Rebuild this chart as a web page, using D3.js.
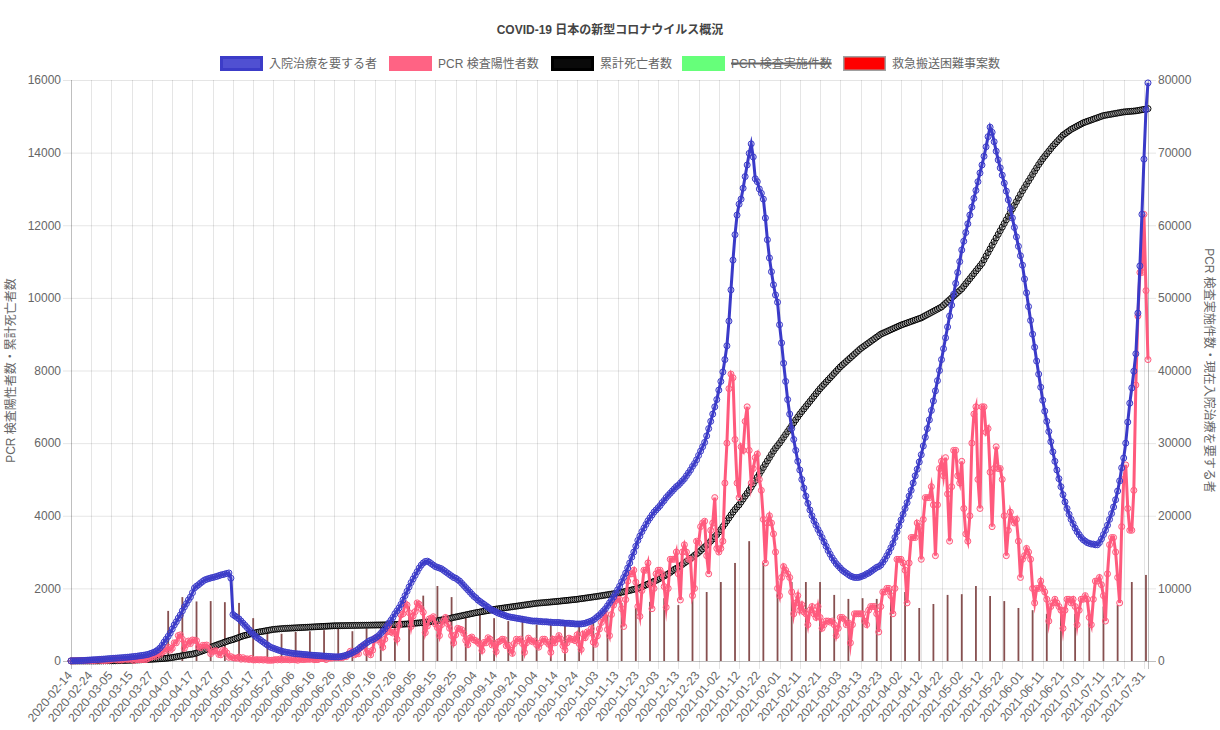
<!DOCTYPE html>
<html><head><meta charset="utf-8">
<script src="https://cdn.jsdelivr.net/npm/d3@7"></script>
<style>
body{margin:0;background:#fff}
text{font-family:"Liberation Sans",Arial,"Noto Sans CJK JP",sans-serif;}
</style></head><body>
<svg id="c" width="1220" height="730"></svg>
<script>
// ---------- DATA ----------
const startDate = "2020-02-14";
const skippedDates = ["2020-03-18","2020-03-22","2020-04-01"];
const categoryCount = 533;

const leftTicks = [0,2000,4000,6000,8000,10000,12000,14000,16000];
const rightTicks = [0,10000,20000,30000,40000,50000,60000,70000,80000];

const seriesNames = ["入院治療を要する者","PCR 検査陽性者数","累計死亡者数","PCR 検査実施件数","救急搬送困難事案数"];
const hiddenSeries = ["PCR 検査実施件数"];

// 入院治療を要する者 (right axis)
const inpatients = [
20,25,30,40,50,60,70,90,110,130,
150,170,180,200,220,240,260,280,300,330,
350,370,390,410,430,450,470,500,520,550,
580,610,640,680,720,760,800,850,900,1000,
1100,1200,1350,1550,1790,2150,2600,3000,3400,3850,
4400,4960,5400,5900,6330,6900,7440,7900,8400,8810,
9400,10050,10300,10500,10740,10950,11150,11250,11350,11430,
11500,11570,11650,11750,11840,11900,11980,12050,12120,11400,
6400,6200,6000,5800,5500,5200,4900,4600,4300,4000,
3700,3450,3200,3000,2800,2600,2400,2200,2000,1850,
1750,1650,1550,1450,1350,1280,1220,1170,1120,1080,
1040,1000,980,960,930,900,880,850,820,800,
780,760,740,720,700,680,660,640,620,600,
580,570,580,600,650,720,800,900,1000,1150,
1300,1450,1650,1900,2100,2300,2500,2700,2850,2950,
3100,3300,3500,3800,4100,4400,4800,5230,5600,6000,
6500,6900,7300,7800,8400,9000,9600,10200,10800,11300,
11800,12300,12800,13200,13500,13700,13750,13600,13400,13200,
13000,12900,12800,12700,12500,12300,12100,11900,11700,11500,
11400,11200,11000,10700,10400,10100,9800,9500,9200,8900,
8700,8400,8200,8000,7800,7600,7400,7200,7000,6900,
6750,6600,6500,6400,6300,6200,6100,6050,6000,5950,
5900,5850,5800,5750,5700,5650,5600,5550,5500,5500,
5500,5450,5450,5400,5400,5400,5350,5350,5300,5300,
5300,5300,5250,5250,5200,5200,5200,5150,5150,5100,
5100,5100,5100,5150,5200,5300,5400,5500,5650,5850,
6100,6300,6600,6900,7200,7600,8000,8400,8800,9300,
9800,10300,10900,11500,12100,12800,13500,14300,15000,15800,
16600,17200,17800,18300,18800,19300,19700,20100,20500,20800,
21100,21400,21800,22100,22500,22800,23100,23400,23700,24000,
24200,24500,24800,25100,25500,25900,26300,26800,27200,27700,
28300,28900,29500,30100,31000,32000,33000,34000,35000,36000,
37300,38500,39800,41500,43400,46800,51100,55200,58700,61400,
62900,63600,65100,66700,68300,69900,71200,69400,66400,66000,
65000,64400,63600,61000,58000,55500,53600,51800,50400,49400,
46300,43800,41000,38500,36000,34000,32000,30500,29000,27500,
26300,25000,23800,22700,21700,20800,20000,19300,18700,18100,
17600,17000,16400,15800,15200,14700,14200,13800,13400,13100,
12800,12500,12300,12100,11900,11700,11600,11500,11500,11500,
11600,11700,11800,12000,12100,12300,12500,12700,12900,13000,
13200,13600,14000,14500,15000,15600,16200,17000,17800,18600,
19400,20200,21000,21800,22700,23500,24500,25500,26400,27400,
28400,29600,30800,32000,33200,34500,35800,37200,38600,40000,
41500,43000,44500,46000,47500,49000,50500,52000,53500,55000,
56600,57800,59000,60200,61400,62500,63700,64800,66000,67200,
68300,69500,70800,72200,73500,72800,71500,70200,69000,67900,
66900,65800,64700,63500,62300,61000,59700,58400,57100,55800,
54500,52600,50700,48800,46900,45000,43200,41300,39500,37700,
35900,34400,33000,31600,30200,28800,27500,26300,25100,24000,
22900,21900,21000,20200,19500,18900,18300,17800,17400,17000,
16700,16500,16300,16200,16100,16100,16000,16000,16300,16800,
17400,18000,18700,19500,20300,21200,22200,23400,24800,26600,
27950,30000,32900,35500,37600,39900,42300,47900,54400,61500,
69100,75900,79600
];

// PCR 検査陽性者数 (left axis)
const positives = [
1,1,5,7,7,12,6,10,14,14,
12,8,16,22,24,14,7,13,18,22,
33,59,47,26,33,26,52,54,41,62,
40,15,44,39,35,43,41,40,69,96,
112,200,130,200,180,240,270,340,380,300,
350,500,500,700,720,600,350,450,550,480,
580,570,560,390,370,430,430,440,350,200,
260,280,280,180,170,290,280,220,100,120,
90,80,80,110,50,90,50,60,40,70,
30,30,40,30,40,25,40,20,20,20,
25,40,30,50,30,40,40,40,30,40,
40,35,20,50,40,40,45,50,45,70,
35,40,40,70,70,70,40,80,80,80,
100,90,110,90,90,120,120,190,270,250,
170,200,200,360,400,430,230,260,170,300,
620,580,660,510,380,600,800,980,800,770,
810,600,980,1270,1300,1580,1540,1330,950,1240,
1360,1600,1560,1440,1340,780,960,1160,1180,1220,
1020,920,700,1000,1100,1200,1030,900,700,500,
720,900,880,860,760,570,450,630,660,580,
560,510,460,290,510,500,640,600,440,480,
260,520,550,600,590,420,440,300,210,480,
600,560,600,480,240,500,630,570,530,550,
450,380,500,600,600,520,460,240,600,500,
600,700,600,420,300,500,630,600,590,560,
720,480,320,740,640,800,770,890,520,460,
690,880,1060,1180,1300,870,700,1280,1540,1660,
1700,1700,1440,950,1690,2200,2400,2400,2500,2170,
1500,1230,1940,2500,2500,2700,2100,1440,2000,2400,
2500,2500,2400,2050,1480,2000,2800,2800,2800,3000,
2400,1680,3000,3200,3000,2800,2800,1800,2000,3300,
3250,3700,3800,3850,2900,2400,3600,3800,4500,3100,
3000,3100,3300,4900,6000,7500,7900,7800,6100,4900,
4500,5900,5800,6600,7000,5800,4900,5300,5600,5700,
5000,4700,3900,2700,3800,4000,3800,3500,3000,2000,
1800,2300,2600,2500,2400,2300,1900,1300,1600,1800,
1400,1550,1350,1300,1000,1400,1500,1300,1200,1500,
1200,900,1000,1100,1100,1070,1100,1000,700,900,
1200,1200,1150,1000,1050,500,1000,1300,1300,1300,
1300,1300,1100,1000,1400,1500,1500,1500,1300,800,
1500,1900,1900,2000,2000,1800,1300,2000,2800,2800,
2800,2700,2500,1600,2700,3400,3400,3400,3800,3700,
2800,3900,4500,4500,4500,4800,4300,2900,4300,5300,
5500,5100,5600,4600,3300,4800,5800,5800,5100,4900,
5500,4200,3500,3300,4000,6000,6800,7000,5000,4200,
7000,7000,6300,6400,5200,3700,5300,5900,5300,5300,
5000,4000,2900,3600,4100,3900,3800,3900,3300,2300,
2800,2900,3100,3000,2800,2000,1600,2000,2000,2200,
2000,1900,1700,1100,1500,1600,1700,1600,1500,1400,
900,1400,1700,1700,1600,1700,1500,1000,1400,1700,
1700,1800,1700,1200,1000,1700,2200,2200,2300,2100,
1800,1100,2400,3200,3400,3400,3000,2300,1600,3700,
5000,5400,4200,3600,3600,4700,7600,9500,10700,10700,
12300,10200,8300
];

// 累計死亡者数 (left axis)
const deaths = [
1,1,1,1,1,1,1,1,1,1,
1,1,1,2,2,3,4,5,6,6,
6,7,8,10,12,14,15,17,19,21,
22,24,27,29,32,35,38,41,43,46,
49,52,55,58,62,66,70,75,80,88,
96,105,115,125,135,145,155,165,175,183,
190,205,220,240,260,280,300,320,340,370,
400,420,440,460,480,500,520,540,560,575,
590,610,630,650,670,690,705,720,735,750,
760,775,790,800,810,820,830,840,850,860,
870,875,880,885,890,895,898,901,904,907,
910,913,916,919,922,925,928,931,934,937,
940,943,946,949,952,955,958,961,964,967,
970,971,972,973,974,975,976,977,978,979,
980,981,982,983,984,985,986,987,988,989,
990,991,992,993,994,995,997,999,1001,1003,
1005,1007,1009,1011,1014,1017,1020,1024,1028,1034,
1040,1045,1050,1055,1060,1066,1072,1080,1088,1094,
1100,1110,1120,1130,1140,1150,1160,1170,1185,1200,
1210,1222,1234,1246,1258,1270,1282,1294,1306,1318,
1330,1340,1350,1360,1370,1380,1390,1400,1410,1420,
1430,1438,1446,1454,1462,1470,1478,1486,1494,1502,
1510,1518,1526,1534,1542,1550,1558,1566,1574,1582,
1590,1595,1600,1605,1610,1615,1620,1625,1630,1635,
1640,1646,1652,1658,1664,1670,1676,1682,1688,1694,
1700,1708,1716,1724,1732,1740,1748,1756,1764,1772,
1780,1789,1798,1807,1816,1825,1834,1843,1852,1861,
1870,1882,1894,1906,1918,1930,1944,1958,1972,1986,
2000,2020,2045,2070,2095,2120,2145,2170,2195,2220,
2250,2280,2310,2340,2370,2400,2440,2480,2520,2550,
2580,2620,2660,2700,2740,2780,2820,2860,2910,2950,
2990,3040,3090,3140,3190,3240,3300,3360,3420,3480,
3550,3620,3700,3780,3860,3940,4020,4100,4170,4240,
4300,4380,4460,4540,4620,4700,4790,4880,4970,5060,
5150,5240,5330,5420,5510,5600,5690,5780,5860,5930,
6000,6080,6160,6240,6320,6400,6480,6560,6640,6720,
6800,6870,6940,7010,7080,7150,7220,7290,7360,7430,
7500,7560,7620,7680,7740,7800,7860,7920,7980,8040,
8100,8150,8200,8250,8300,8350,8400,8450,8500,8550,
8600,8640,8680,8720,8760,8800,8840,8880,8920,8960,
9000,9025,9050,9075,9100,9125,9150,9175,9200,9225,
9250,9270,9290,9310,9330,9350,9370,9390,9410,9430,
9450,9480,9510,9540,9570,9600,9630,9660,9690,9720,
9750,9800,9850,9900,9950,10000,10050,10100,10150,10200,
10250,10320,10390,10460,10530,10600,10670,10740,10810,10880,
10950,11050,11150,11250,11350,11450,11550,11650,11750,11850,
11950,12050,12150,12250,12350,12450,12550,12650,12750,12850,
12950,13040,13130,13220,13310,13400,13490,13580,13670,13750,
13830,13900,13970,14040,14110,14180,14240,14300,14360,14420,
14480,14520,14560,14600,14640,14670,14700,14730,14760,14790,
14820,14840,14860,14880,14900,14920,14940,14960,14980,15000,
15020,15030,15040,15050,15060,15070,15080,15090,15100,15110,
15120,15125,15130,15135,15140,15145,15150,15160,15170,15180,
15190,15200,15210
];

// 救急搬送困難事案数 (weekly, left axis), first week at category index 48
const emergencyFirstIndex = 48;
const emergencyWeekly = [
1380,1760,1640,1650,1620,1600,1180,850,750,800,
820,850,880,820,900,950,1100,1500,1800,2065,
1760,1180,1270,1180,1100,1240,1000,1000,980,990,
1070,1270,1600,1460,1630,1730,1540,1760,1900,2175,
2700,3300,2700,2200,2175,2175,2175,1820,1710,1730,
1710,1950,1900,1460,1570,1820,1840,2065,1790,1650,
1460,1400,1300,1300,1300,1400,1500,1540,2175,2370
];

// ---------- BUILD CATEGORIES ----------
const categories = [];
{
  let t = Date.parse(startDate + "T00:00:00Z");
  while (categories.length < categoryCount) {
    const s = new Date(t).toISOString().slice(0,10);
    if (!skippedDates.includes(s)) categories.push(s);
    t += 86400000;
  }
}
const tickLabels = categories.filter((d,i)=>i%10===0);

// ---------- CHART ----------
const L=71,R=1148,T=80,B=661;
const svg=d3.select("#c");
const x=d3.scalePoint().domain(categories).range([L,R]);
const yL=d3.scaleLinear().domain([0,16000]).range([B,T]);
const yR=d3.scaleLinear().domain([0,80000]).range([B,T]);
const grid="rgba(0,0,0,0.1)";
const tickColor="#666";

// title
svg.append("text").attr("x",610).attr("y",34).attr("text-anchor","middle")
  .attr("font-size",12).attr("font-weight","bold").attr("fill","#444")
  .text("COVID-19 日本の新型コロナウイルス概況");

// legend
const legendColors=[
 {fill:"rgba(80,80,210,1)",stroke:"rgb(60,60,200)",sw:3},
 {fill:"rgb(255,99,132)",stroke:"rgb(255,99,132)",sw:3},
 {fill:"rgb(10,10,10)",stroke:"rgb(0,0,0)",sw:3},
 {fill:"rgb(102,255,122)",stroke:"rgb(102,255,122)",sw:3},
 {fill:"rgb(255,0,0)",stroke:"rgb(160,160,160)",sw:1.5}
];
const legendX=[220,389,551,682,843];
const lg=svg.append("g");
seriesNames.forEach((name,i)=>{
  const g=lg.append("g");
  const c=legendColors[i];
  g.append("rect").attr("x",legendX[i]+c.sw/2).attr("y",56+c.sw/2).attr("width",43-c.sw).attr("height",15-c.sw)
    .attr("fill",c.fill).attr("stroke",c.stroke).attr("stroke-width",c.sw);
  const t=g.append("text").attr("x",legendX[i]+49).attr("y",63.5).attr("dy","0.35em")
    .attr("font-size",12).attr("fill","#666").text(name);
  if(hiddenSeries.includes(name)){
    const w=t.node().getComputedTextLength();
    g.append("line").attr("x1",legendX[i]+49).attr("x2",legendX[i]+49+w)
      .attr("y1",63.5).attr("y2",63.5).attr("stroke","#666").attr("stroke-width",2);
  }
});

// horizontal gridlines
svg.append("g").selectAll("line").data(leftTicks).join("line")
  .attr("x1",L-8).attr("x2",R+8).attr("y1",d=>yL(d)+0.5).attr("y2",d=>yL(d)+0.5)
  .attr("stroke",d=>d===0?"rgba(0,0,0,0.25)":grid);
// vertical gridlines
svg.append("g").selectAll("line").data(tickLabels).join("line")
  .attr("x1",d=>Math.round(x(d))+0.5).attr("x2",d=>Math.round(x(d))+0.5)
  .attr("y1",T).attr("y2",B+8)
  .attr("stroke",(d,i)=>i===0?"rgba(0,0,0,0.25)":grid);
// right axis line
svg.append("line").attr("x1",R+0.5).attr("x2",R+0.5).attr("y1",T).attr("y2",B+8).attr("stroke","rgba(0,0,0,0.25)");

// left axis labels
const axL=svg.append("g").attr("transform",`translate(${L},0)`)
  .call(d3.axisLeft(yL).tickValues(leftTicks).tickSize(0).tickPadding(10).tickFormat(d3.format("d")));
axL.select(".domain").remove();
axL.selectAll("text").attr("font-size",12).attr("fill",tickColor).attr("font-family",null);
// right axis labels
const axR=svg.append("g").attr("transform",`translate(${R},0)`)
  .call(d3.axisRight(yR).tickValues(rightTicks).tickSize(0).tickPadding(10).tickFormat(d3.format("d")));
axR.select(".domain").remove();
axR.selectAll("text").attr("font-size",12).attr("fill",tickColor).attr("font-family",null);
// x axis labels
const axX=svg.append("g").attr("transform",`translate(0,${B})`)
  .call(d3.axisBottom(x).tickValues(tickLabels).tickSize(0).tickPadding(0));
axX.select(".domain").remove();
axX.selectAll("text").attr("font-size",12).attr("fill",tickColor).attr("font-family",null)
  .attr("text-anchor","end").attr("dy","0.35em").attr("y",0)
  .attr("transform","translate(-2,12) rotate(-50)");

// axis titles
svg.append("text").attr("transform",`translate(11,${(T+B)/2}) rotate(-90)`)
  .attr("text-anchor","middle").attr("font-size",12).attr("fill","#666").attr("dy","0.35em")
  .text("PCR 検査陽性者数・累計死亡者数");
svg.append("text").attr("transform",`translate(1209,${(T+B)/2}) rotate(90)`)
  .attr("text-anchor","middle").attr("font-size",12).attr("fill","#666").attr("dy","0.35em")
  .text("PCR 検査実施件数・現在入院治療を要する者");

// bars (emergency)
const barData=emergencyWeekly.map((v,k)=>({c:categories[emergencyFirstIndex+7*k],v}));
svg.append("g").selectAll("rect").data(barData).join("rect")
  .attr("x",d=>x(d.c)-0.9).attr("width",1.8)
  .attr("y",d=>yL(d.v)).attr("height",d=>B-yL(d.v))
  .attr("fill","rgb(135,80,80)");

function drawLine(values,scale,color,pointFill,width){
  const data=values.map((v,i)=>({c:categories[i],v}));
  const g=svg.append("g");
  g.append("path").datum(data)
    .attr("d",d3.line().x(d=>x(d.c)).y(d=>scale(d.v)))
    .attr("fill","none").attr("stroke",color).attr("stroke-width",width)
    .attr("stroke-linejoin","miter").attr("stroke-miterlimit",10);
  g.selectAll("circle").data(data).join("circle")
    .attr("cx",d=>x(d.c)).attr("cy",d=>scale(d.v)).attr("r",3)
    .attr("fill",pointFill).attr("stroke",color).attr("stroke-width",1);
}
drawLine(deaths,yL,"rgb(0,0,0)","rgba(255,255,255,0.35)",3);
drawLine(positives,yL,"rgb(255,90,125)","rgba(255,99,132,0.15)",3);
drawLine(inpatients,yR,"rgb(58,58,200)","rgba(80,80,210,0.15)",3);
</script>
</body></html>
